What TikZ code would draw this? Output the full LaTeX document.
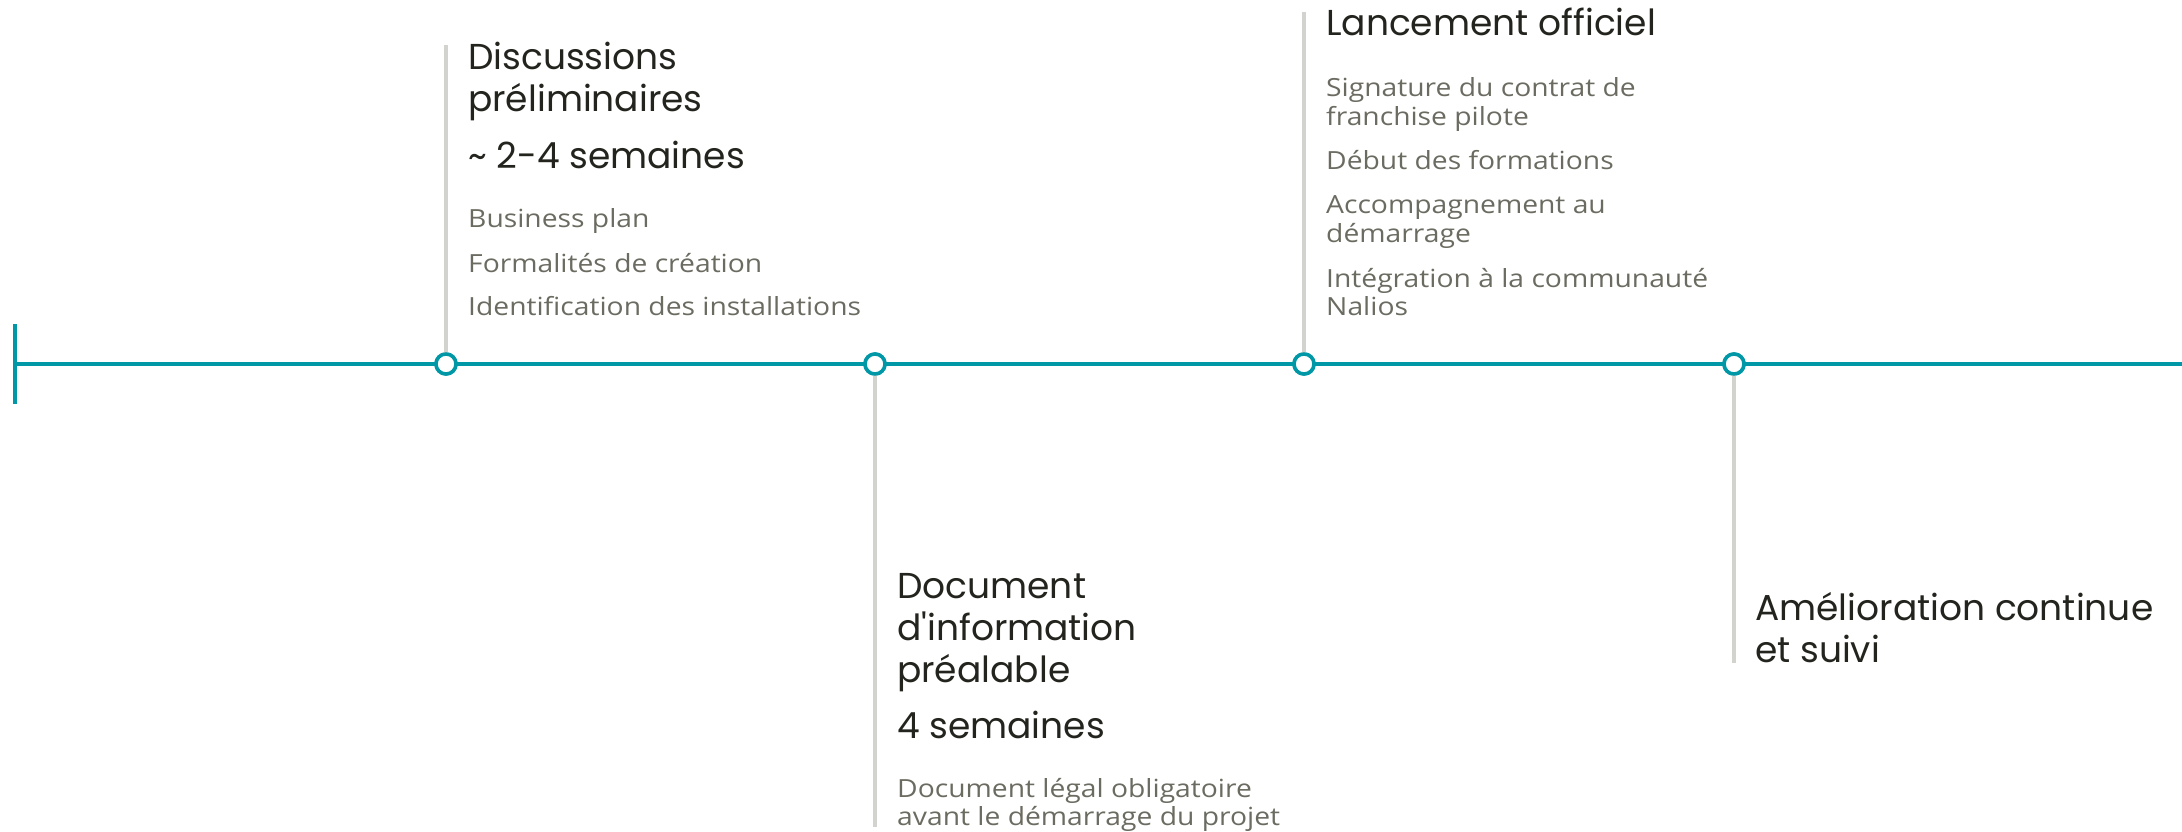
\documentclass[tikz,border=0pt]{standalone}
\usepackage{fontspec}
\setmainfont{Open Sans}
\newfontfamily\titlefont{Poppins}
\newfontfamily\bodyfont[FakeStretch=1.13]{Open Sans}
\definecolor{tl}{HTML}{0097A7}
\definecolor{stemc}{HTML}{D2D2CE}
\definecolor{ttl}{HTML}{24241F}
\definecolor{bdy}{HTML}{6B6B61}
\begin{document}
\begin{tikzpicture}[x=1pt,y=-1pt,
  ttxt/.style={anchor=base west, inner sep=0pt, font=\titlefont\fontsize{36}{42}\selectfont, text=ttl},
  btxt/.style={anchor=base west, inner sep=0pt, font=\bodyfont\fontsize{25}{29}\selectfont, text=bdy},
  milestone/.style={circle, draw=tl, fill=white, line width=3.5pt, minimum size=20pt, inner sep=0pt},
  stemline/.style={draw=stemc, line width=4pt},
  axis/.style={draw=tl, line width=4pt}]
\useasboundingbox (0,0) rectangle (2182,832);
% positions
\coordinate (s) at (15,364);
\coordinate (e) at (2182,364);
\coordinate (tickt) at (15,324);
\coordinate (tickb) at (15,404);
\coordinate (t1) at (446,45);
\coordinate (t2) at (875,827);
\coordinate (t3) at (1304,12);
\coordinate (t4) at (1734,663);
% milestones (placed first so stems can refer to them)
\node[milestone] (m1) at (446,364) {};
\node[milestone] (m2) at (875,364) {};
\node[milestone] (m3) at (1304,364) {};
\node[milestone] (m4) at (1734,364) {};
% stems
\draw[stemline] (m1.center) -- (t1);
\draw[stemline] (m2.center) -- (t2);
\draw[stemline] (m3.center) -- (t3);
\draw[stemline] (m4.center) -- (t4);
% axis
\draw[axis] (tickt) -- (tickb);
\draw[axis] (s) -- (e);
\node[milestone] at (m1) {};
\node[milestone] at (m2) {};
\node[milestone] at (m3) {};
\node[milestone] at (m4) {};
% texts 1
\node[ttxt] (a1) at (468,70) {Discussions};
\node[ttxt] (a2) at (468,112) {préliminaires};
\node[ttxt] (a3) at (468,168) {\textasciitilde{} 2-4 semaines};
\node[btxt] (a4) at (468,227) {Business plan};
\node[btxt] (a5) at (468,272) {Formalités de création};
\node[btxt] (a6) at (468,315) {Identification des installations};
% texts 2
\node[ttxt] (b1) at (897,598) {Document};
\node[ttxt] (b2) at (897,640) {d'information};
\node[ttxt] (b3) at (897,682) {préalable};
\node[ttxt] (b4) at (897,738) {4 semaines};
\node[btxt] (b5) at (897,797) {Document légal obligatoire};
\node[btxt] (b6) at (897,825) {avant le démarrage du projet};
% texts 3
\node[ttxt] (c1) at (1326,36) {Lancement officiel};
\node[btxt] (c2) at (1326,97) {Signature du contrat de};
\node[btxt] (c3) at (1326,126) {franchise pilote};
\node[btxt] (c4) at (1326,170) {Début des formations};
\node[btxt] (c5) at (1326,213) {Accompagnement au};
\node[btxt] (c6) at (1326,242) {démarrage};
\node[btxt] (c7) at (1326,287) {Intégration à la communauté};
\node[btxt] (c8) at (1326,315) {Nalios};
% texts 4
\node[ttxt] (d1) at (1755,620) {Amélioration continue};
\node[ttxt] (d2) at (1755,662) {et suivi};
\end{tikzpicture}
\end{document}
